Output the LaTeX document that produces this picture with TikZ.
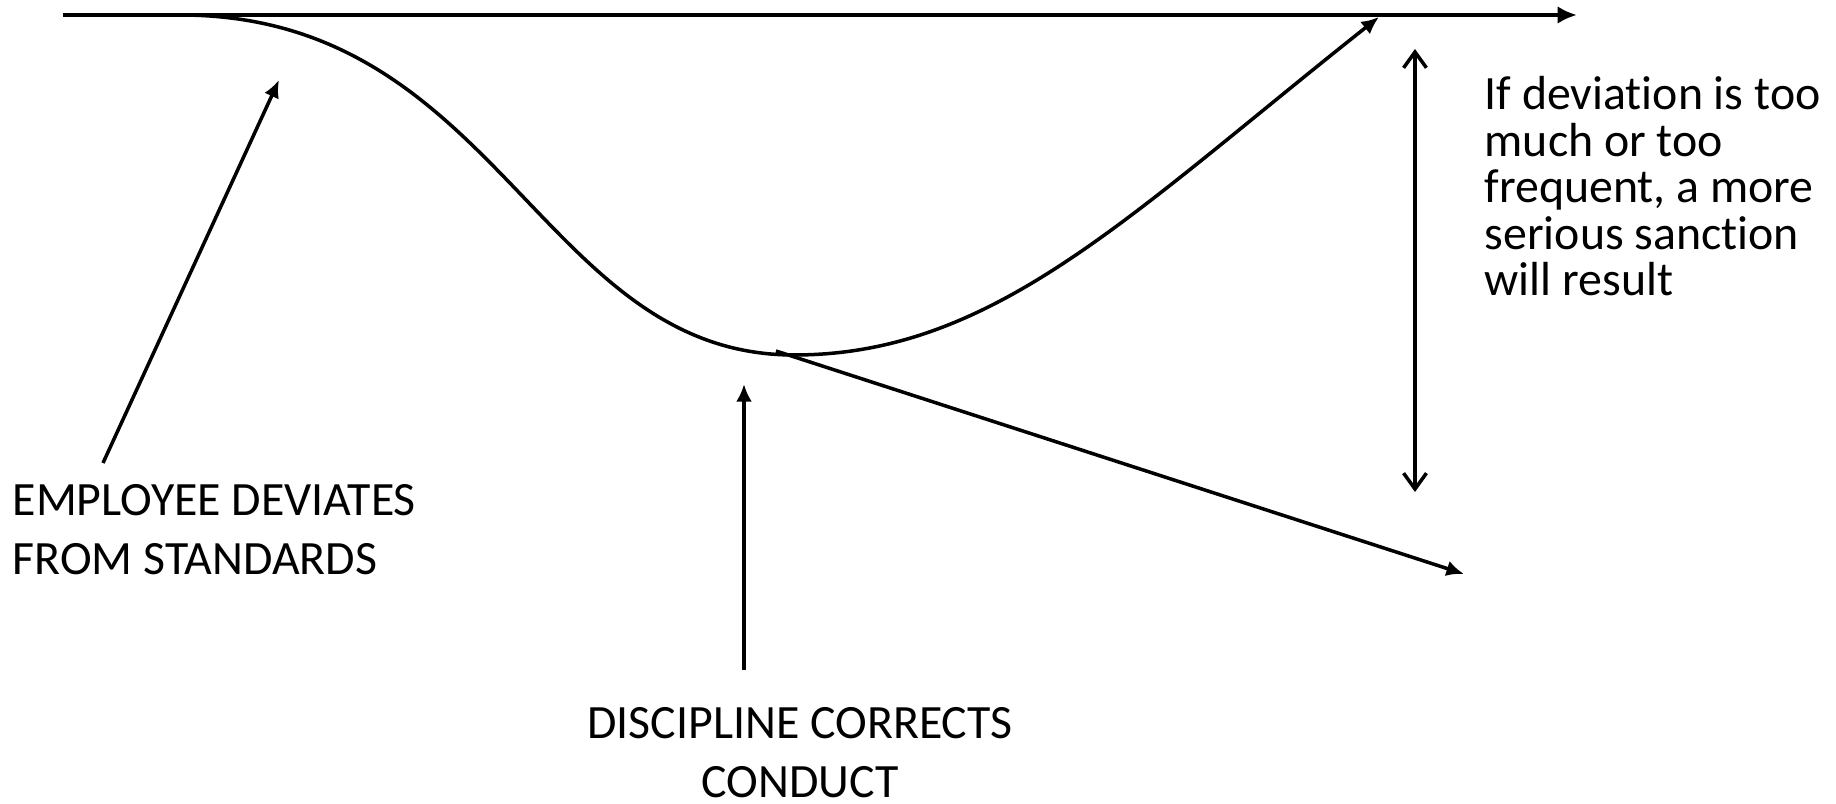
\documentclass[tikz,border=0pt]{standalone}
\usepackage{fontspec}
\setmainfont{Carlito}[Ligatures=NoCommon]
\usetikzlibrary{arrows.meta, positioning}

\begin{document}
\begin{tikzpicture}[
		x=0.01cm, y=-0.01cm,
		axis/.style={draw, line width=1.3pt, -{Latex[length=5.5pt, width=5pt]}},
		line/.style={draw, line width=1pt, -{Latex[length=5pt, width=4.5pt]}},
		spread/.style={draw, line width=1pt, {Straight Barb[length=4.5pt, width=6.5pt]}-{Straight Barb[length=4.5pt, width=6.5pt]}},
		note/.style={inner sep=0pt, align=left, font=\fontsize{13.6}{16.6}\selectfont},
		sidenote/.style={inner sep=0pt, align=left, font=\fontsize{13.6}{13.2}\selectfont}
	]
	\useasboundingbox (0,0) rectangle (1836,804);

	% Standard of conduct
	\coordinate (axisstart) at (63,15);
	\coordinate (axisend) at (1577,15);

	% Deviation curve
	\coordinate (curvestart) at (180,15);
	\coordinate (curvemin) at (794,355);
	\coordinate (curveend) at (1379,17);

	% Texts
	\node [note, anchor=north west] (deviates) at (12,484) {EMPLOYEE DEVIATES\\FROM STANDARDS};
	\node [note, anchor=north, align=center] (corrects) at (800,707) {DISCIPLINE CORRECTS\\CONDUCT};
	\node [sidenote, anchor=north west] (sanction) at (1484,76) {If deviation is too\\much or too\\frequent, a more\\serious sanction\\will result};

	% Arrow ends
	\coordinate (deviatesfrom) at (103,463);
	\coordinate (deviatesto) at (279,80);
	\coordinate (correctsfrom) at (744,670);
	\coordinate (correctsto) at (744,384);
	\coordinate (slopefrom) at (776,351);
	\coordinate (slopeto) at (1464,574);
	\coordinate (spreadtop) at (1415,49);
	\coordinate (spreadbottom) at (1415,492);

	% Edges
	\path [axis] (axisstart) -- (axisend);
	\path [line] (curvestart) .. controls (500,15) and (540,355) .. (curvemin)
		.. controls (994,355) and (1129,215) .. (curveend);
	\path [line] (deviatesfrom) -- (deviatesto);
	\path [line] (correctsfrom) -- (correctsto);
	\path [line] (slopefrom) -- (slopeto);
	\path [spread] (spreadtop) -- (spreadbottom);

\end{tikzpicture}
\end{document}
